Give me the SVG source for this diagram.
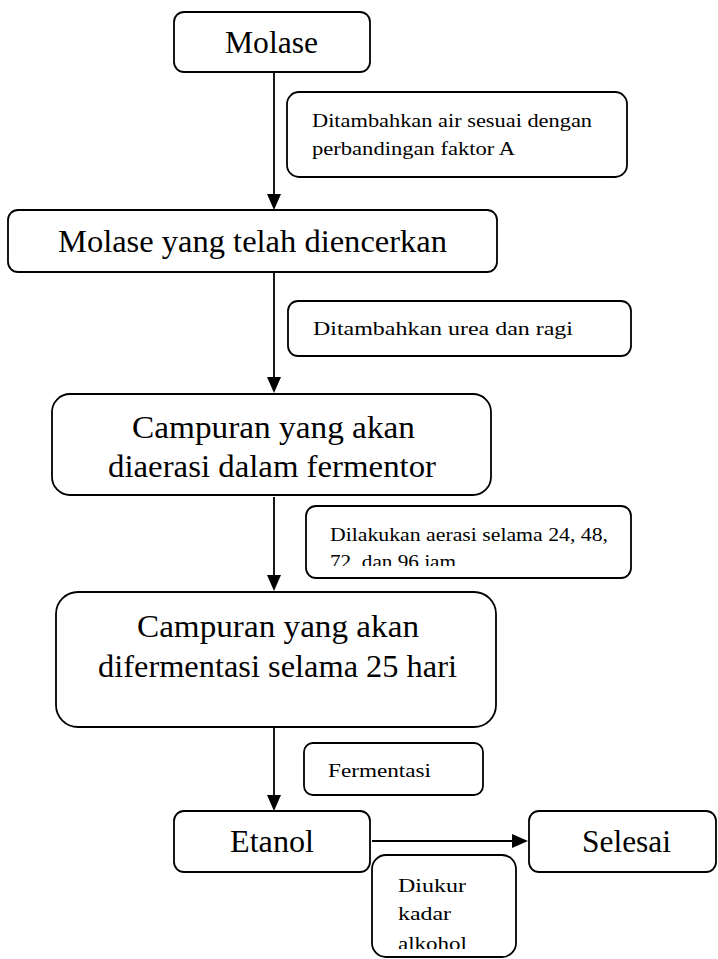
<svg xmlns="http://www.w3.org/2000/svg" width="718" height="959" viewBox="0 0 718 959">
<style>
.box{fill:#fff;stroke:#000;stroke-width:1.8}
.t{font-family:"Liberation Serif","Times New Roman",serif;fill:#000}
.big{font-size:31px}
.sm{font-size:19px}
.con{stroke:#000;stroke-width:1.8;fill:none}
</style>
<defs>
<clipPath id="c3"><rect x="300" y="500" width="340" height="66"/></clipPath>
<clipPath id="c5"><rect x="360" y="850" width="170" height="99"/></clipPath>
</defs>
<g id="connectors">
<line class="con" x1="274" y1="72" x2="274" y2="196"/>
<line class="con" x1="274" y1="272" x2="274" y2="379"/>
<line class="con" x1="274" y1="497" x2="274" y2="577"/>
<line class="con" x1="274" y1="727" x2="274" y2="797"/>
<line class="con" x1="372" y1="841" x2="514" y2="841"/>
<path d="M267,194 L281,194 L274,210 z"/>
<path d="M267,377 L281,377 L274,393 z"/>
<path d="M267,575 L281,575 L274,591 z"/>
<path d="M267,795 L281,795 L274,811 z"/>
<path d="M512,834 L512,848 L528,841 z"/>
</g>
<g id="molase">
<rect class="box" x="174" y="12" width="196" height="60" rx="10"/>
<text class="t big" x="225" y="53" textLength="93" lengthAdjust="spacingAndGlyphs">Molase</text>
</g>
<g id="note1">
<rect class="box" x="287" y="92" width="340" height="85" rx="12"/>
<text class="t sm" x="312" y="127" textLength="280" lengthAdjust="spacingAndGlyphs">Ditambahkan air sesuai dengan</text>
<text class="t sm" x="312" y="155" textLength="203" lengthAdjust="spacingAndGlyphs">perbandingan faktor A</text>
</g>
<g id="molase-encer">
<rect class="box" x="8" y="210" width="489" height="62" rx="10"/>
<text class="t big" x="58" y="252" textLength="389" lengthAdjust="spacingAndGlyphs">Molase yang telah diencerkan</text>
</g>
<g id="note2">
<rect class="box" x="288" y="301" width="343" height="55" rx="10"/>
<text class="t sm" x="313" y="335" textLength="260" lengthAdjust="spacingAndGlyphs">Ditambahkan urea dan ragi</text>
</g>
<g id="campuran-aerasi">
<rect class="box" x="52" y="394" width="439" height="101" rx="18"/>
<text class="t big" x="132" y="438" textLength="283" lengthAdjust="spacingAndGlyphs">Campuran yang akan</text>
<text class="t big" x="108" y="477" textLength="328" lengthAdjust="spacingAndGlyphs">diaerasi dalam fermentor</text>
</g>
<g id="note3">
<rect class="box" x="306" y="506" width="325" height="72" rx="10"/>
<g clip-path="url(#c3)">
<text class="t sm" x="330" y="541" textLength="278" lengthAdjust="spacingAndGlyphs">Dilakukan aerasi selama 24, 48,</text>
<text class="t sm" x="330" y="568" textLength="126" lengthAdjust="spacingAndGlyphs">72, dan 96 jam</text>
</g>
</g>
<g id="campuran-fermentasi">
<rect class="box" x="56" y="592" width="440" height="135" rx="22"/>
<text class="t big" x="137" y="637" textLength="282" lengthAdjust="spacingAndGlyphs">Campuran yang akan</text>
<text class="t big" x="98" y="677" textLength="359" lengthAdjust="spacingAndGlyphs">difermentasi selama 25 hari</text>
</g>
<g id="note4">
<rect class="box" x="304" y="743" width="179" height="52" rx="9"/>
<text class="t sm" x="328" y="777" textLength="103" lengthAdjust="spacingAndGlyphs">Fermentasi</text>
</g>
<g id="etanol">
<rect class="box" x="174" y="811" width="196" height="61" rx="10"/>
<text class="t big" x="230" y="852" textLength="84" lengthAdjust="spacingAndGlyphs">Etanol</text>
</g>
<g id="selesai">
<rect class="box" x="529" y="811" width="187" height="61" rx="10"/>
<text class="t big" x="582" y="852" textLength="89" lengthAdjust="spacingAndGlyphs">Selesai</text>
</g>
<g id="note5">
<rect class="box" x="372" y="855" width="144" height="102" rx="14"/>
<g clip-path="url(#c5)">
<text class="t sm" x="398" y="892" textLength="68" lengthAdjust="spacingAndGlyphs">Diukur</text>
<text class="t sm" x="398" y="920" textLength="53" lengthAdjust="spacingAndGlyphs">kadar</text>
<text class="t sm" x="398" y="950" textLength="69" lengthAdjust="spacingAndGlyphs">alkohol</text>
</g>
</g>
</svg>
